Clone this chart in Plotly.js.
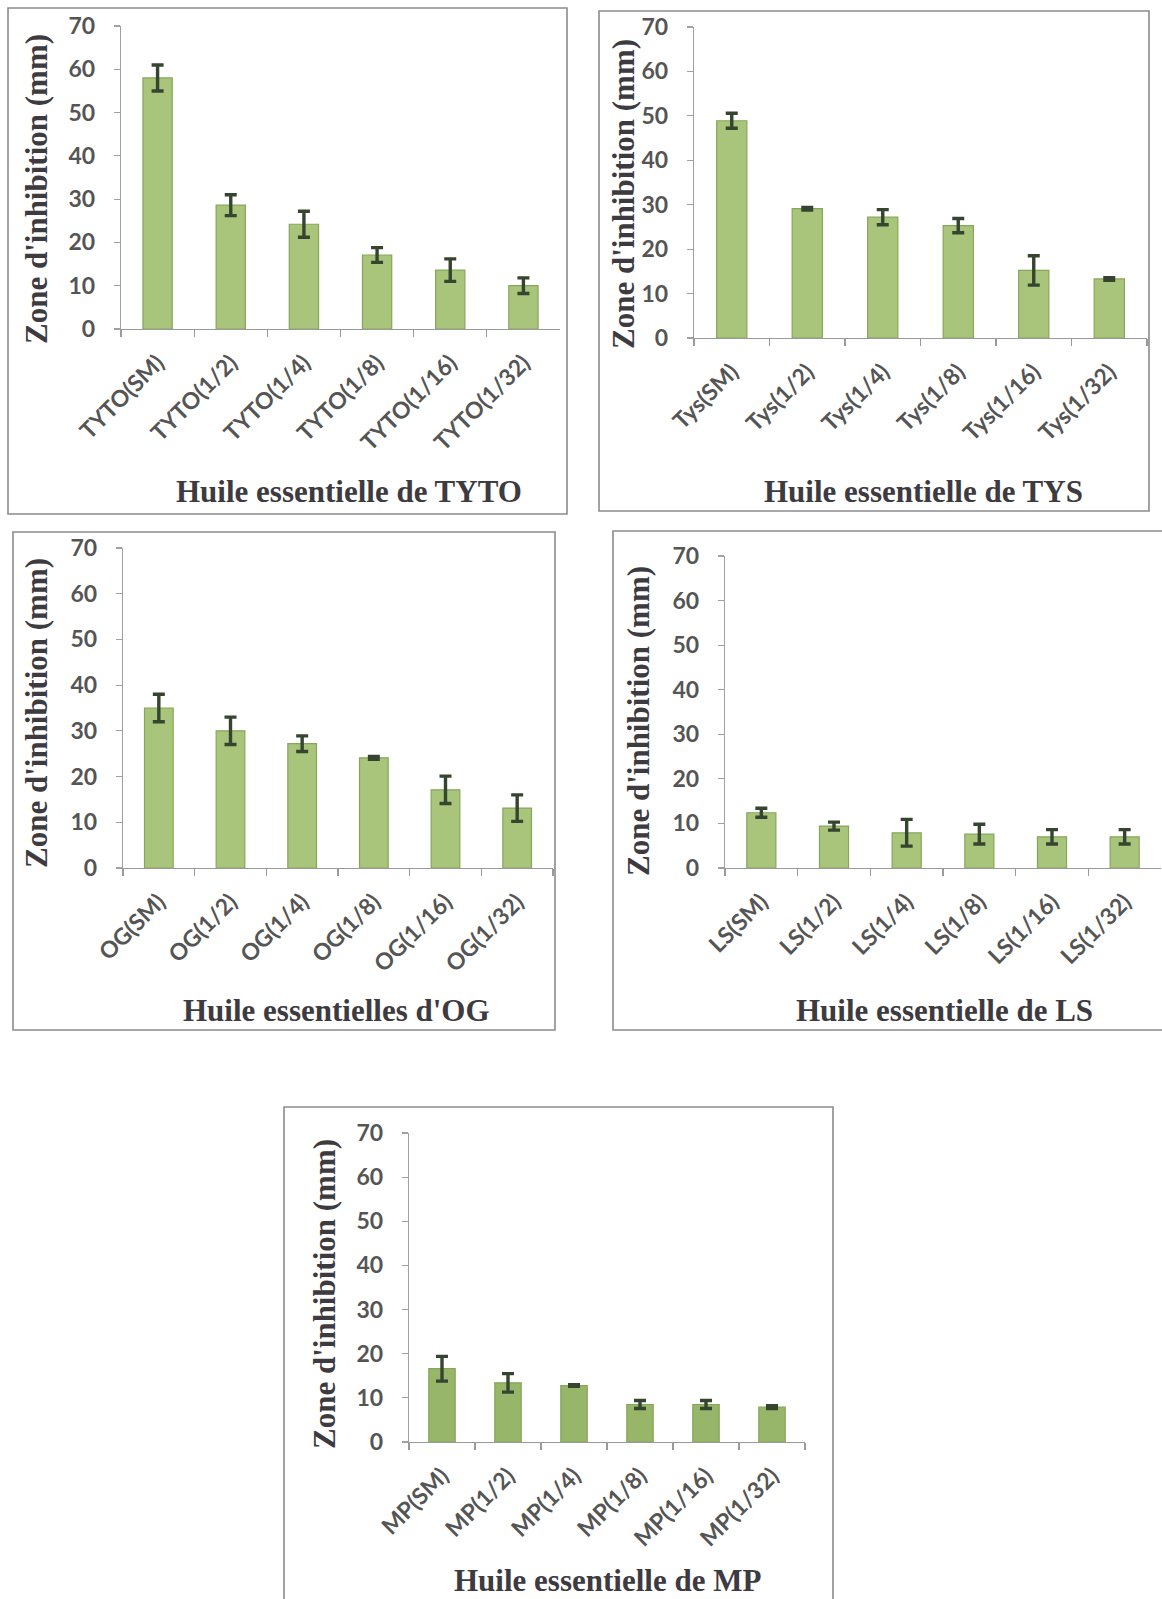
<!DOCTYPE html>
<html>
<head>
<meta charset="utf-8">
<script src="https://cdn.plot.ly/plotly-3.0.1.min.js"></script>
<style>
  html, body { margin: 0; padding: 0; background: #ffffff; }
  #chart { width: 1162px; height: 1599px; }
</style>
</head>
<body>
<div id="chart"></div>
<script>
// Inhibition zone diameters (mm) for five essential oils at six dilutions
const categoriesTYTO = ["TYTO(SM)", "TYTO(1/2)", "TYTO(1/4)", "TYTO(1/8)", "TYTO(1/16)", "TYTO(1/32)"];
const valuesTYTO = [58.0, 28.6, 24.2, 17.1, 13.6, 10.0];
const errorsTYTO = [3.0, 2.4, 3.0, 1.7, 2.6, 1.8];

const categoriesTYS = ["Tys(SM)", "Tys(1/2)", "Tys(1/4)", "Tys(1/8)", "Tys(1/16)", "Tys(1/32)"];
const valuesTYS = [48.9, 29.1, 27.2, 25.3, 15.2, 13.3];
const errorsTYS = [1.7, 0.3, 1.7, 1.6, 3.3, 0.3];

const categoriesOG = ["OG(SM)", "OG(1/2)", "OG(1/4)", "OG(1/8)", "OG(1/16)", "OG(1/32)"];
const valuesOG = [35.0, 30.0, 27.2, 24.1, 17.1, 13.1];
const errorsOG = [3.0, 3.0, 1.7, 0.3, 3.0, 2.9];

const categoriesLS = ["LS(SM)", "LS(1/2)", "LS(1/4)", "LS(1/8)", "LS(1/16)", "LS(1/32)"];
const valuesLS = [12.4, 9.4, 7.9, 7.6, 7.0, 7.0];
const errorsLS = [1.0, 0.9, 3.0, 2.2, 1.6, 1.6];

const categoriesMP = ["MP(SM)", "MP(1/2)", "MP(1/4)", "MP(1/8)", "MP(1/16)", "MP(1/32)"];
const valuesMP = [16.6, 13.4, 12.8, 8.5, 8.5, 7.9];
const errorsMP = [2.8, 2.1, 0.2, 0.9, 0.9, 0.3];

const xTitles = ["Huile essentielle de TYTO", "Huile essentielle de TYS", "Huile essentielles d'OG",
                 "Huile essentielle de LS", "Huile essentielle de MP"];
const yTitle = "Zone d'inhibition (mm)";

// Page geometry in pixels
const W = 1162, H = 1599;
const px = x => x / W;
const py = y => 1 - y / H;

const panels = [
  { cats: categoriesTYTO, vals: valuesTYTO, errs: errorsTYTO, fill: "#a9c57c",
    ax: [121, 560], ay: [26, 329], frame: [8, 8, 567, 514], xt: [349, 491], yt: [36, 189] },
  { cats: categoriesTYS, vals: valuesTYS, errs: errorsTYS, fill: "#a9c57c",
    ax: [694, 1147], ay: [27, 338], frame: [599, 11, 1149, 511], xt: [923, 491], yt: [624, 194] },
  { cats: categoriesOG, vals: valuesOG, errs: errorsOG, fill: "#a9c57c",
    ax: [123, 553], ay: [548, 868], frame: [13, 532, 555, 1030], xt: [337, 1010], yt: [36, 713] },
  { cats: categoriesLS, vals: valuesLS, errs: errorsLS, fill: "#a9c57c",
    ax: [725, 1161], ay: [556, 868], frame: [613, 531, 1175, 1030], xt: [944, 1010], yt: [638, 721] },
  { cats: categoriesMP, vals: valuesMP, errs: errorsMP, fill: "#98b66a",
    ax: [409, 805], ay: [1133, 1442], frame: [284, 1107, 833, 1620], xt: [607, 1580], yt: [324, 1294] }
];

const traces = [];
const layout = {
  width: W, height: H,
  margin: { l: 0, r: 0, t: 0, b: 0 },
  paper_bgcolor: "#ffffff",
  plot_bgcolor: "rgba(0,0,0,0)",
  showlegend: false,
  bargap: 0.6,
  shapes: [],
  annotations: []
};

const yTickFont = { family: "Lato, 'Open Sans', sans-serif", size: 23, color: "#555555", weight: 700 };
const xTickFont = { family: "Lato, 'Open Sans', sans-serif", size: 23, color: "#555555", weight: 700 };
const titleFont = { family: "'Liberation Serif', 'Times New Roman', serif", size: 31, color: "#3d3a40", weight: 700 };

panels.forEach((p, i) => {
  const n = i === 0 ? "" : String(i + 1);
  traces.push({
    type: "bar",
    x: p.cats,
    y: p.vals,
    xaxis: "x" + n,
    yaxis: "y" + n,
    marker: { color: p.fill, line: { color: "#86a65a", width: 1.2 } },
    error_y: { type: "data", array: p.errs, visible: true, color: "#36452f", thickness: 3.4, width: 6 },
    hoverinfo: "x+y"
  });

  layout["xaxis" + n] = {
    domain: [px(p.ax[0]), px(p.ax[1])],
    anchor: "y" + n,
    type: "category",
    range: [-0.5, 5.5],
    showline: true, linecolor: "#9a9a9a", linewidth: 1.2,
    ticks: "outside", tickson: "boundaries", ticklen: 7, tickcolor: "#9a9a9a", tickwidth: 1.2,
    tickangle: -45,
    tickfont: xTickFont,
    ticklabelstandoff: 10,
    showgrid: false, zeroline: false, fixedrange: true
  };
  layout["yaxis" + n] = {
    domain: [py(p.ay[1]), py(p.ay[0])],
    anchor: "x" + n,
    range: [0, 70],
    tickmode: "linear", tick0: 0, dtick: 10,
    showline: true, linecolor: "#a0a0a0", linewidth: 1.2,
    ticks: "outside", ticklen: 6, tickcolor: "#a0a0a0", tickwidth: 1.2,
    tickfont: yTickFont,
    ticklabelstandoff: 14,
    showgrid: false, zeroline: false, fixedrange: true
  };

  // Panel border
  layout.shapes.push({
    type: "rect", xref: "paper", yref: "paper",
    x0: px(p.frame[0]), x1: px(p.frame[2]), y0: py(p.frame[3]), y1: py(p.frame[1]),
    line: { color: "#8c8a8e", width: 1.6 }, fillcolor: "rgba(0,0,0,0)", layer: "below"
  });

  // Axis titles
  layout.annotations.push({
    xref: "paper", yref: "paper",
    x: px(p.xt[0]), y: py(p.xt[1]),
    xanchor: "center", yanchor: "middle",
    text: xTitles[i], showarrow: false, font: titleFont
  });
  layout.annotations.push({
    xref: "paper", yref: "paper",
    x: px(p.yt[0]), y: py(p.yt[1]),
    xanchor: "center", yanchor: "middle", textangle: -90,
    text: yTitle, showarrow: false, font: titleFont
  });
});

Plotly.newPlot("chart", traces, layout, { staticPlot: true, displayModeBar: false });
</script>
</body>
</html>
